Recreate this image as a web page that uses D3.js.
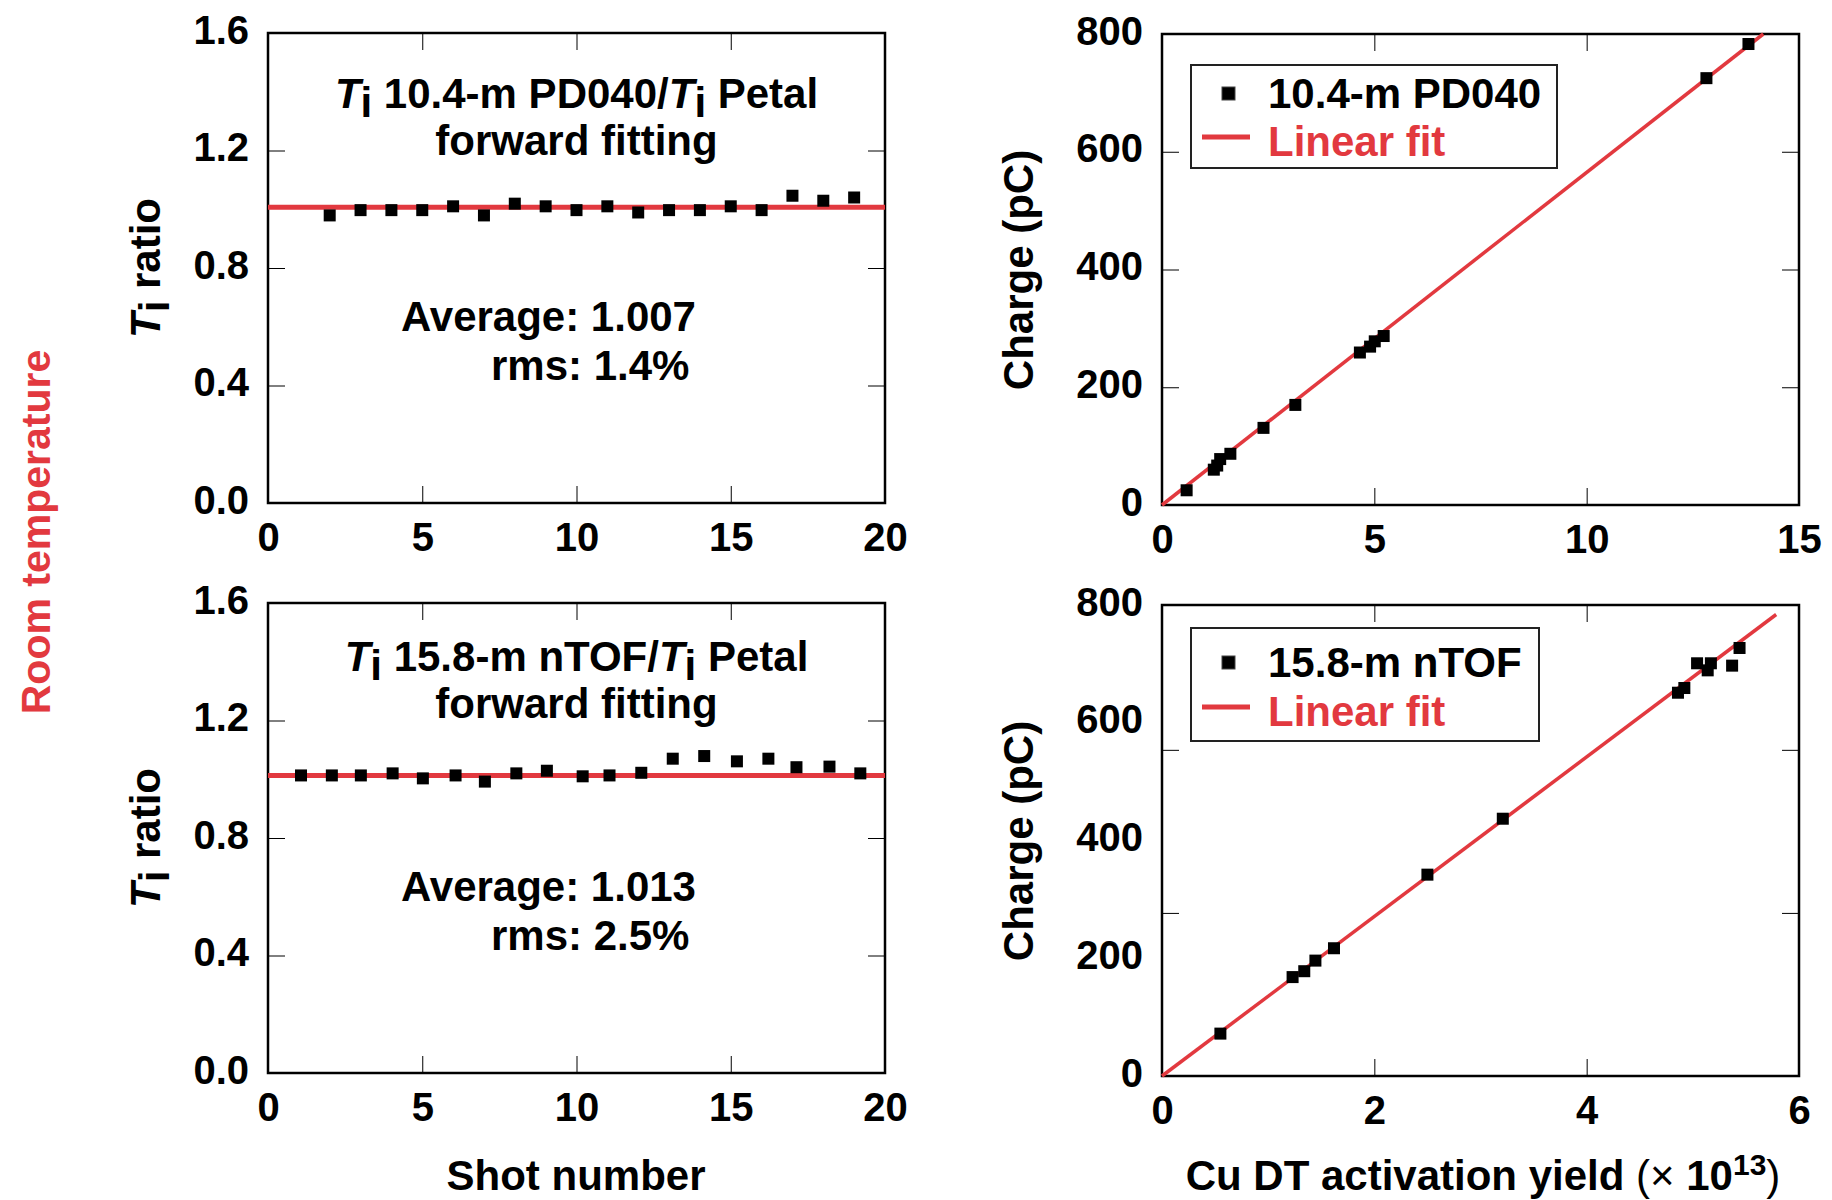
<!DOCTYPE html>
<html>
<head>
<meta charset="utf-8">
<script src="https://cdn.jsdelivr.net/npm/d3@7"></script>
<style>
  body { margin: 0; background: #fff; }
  text { font-family: "Liberation Sans", Arial, Helvetica, sans-serif; font-weight: bold; }
</style>
</head>
<body>
<div id="chart"></div>
<script>
// ---- data ----
const shotsPD = [2, 3, 4, 5, 6, 7, 8, 9, 10, 11, 12, 13, 14, 15, 16, 17, 18, 19];
const ratioPD = [0.979, 0.997, 0.997, 0.997, 1.010, 0.979, 1.019, 1.010, 0.997, 1.010, 0.989, 0.997, 0.997, 1.010, 0.997, 1.046, 1.029, 1.040];
const avgPD = 1.007;

const shotsNT = [1.07, 2.07, 3.01, 4.04, 5.02, 6.08, 7.03, 8.05, 9.04, 10.2, 11.07, 12.1, 13.12, 14.14, 15.2, 16.22, 17.13, 18.2, 19.2];
const ratioNT = [1.013, 1.013, 1.013, 1.020, 1.003, 1.013, 0.992, 1.020, 1.029, 1.010, 1.013, 1.022, 1.070, 1.079, 1.061, 1.070, 1.041, 1.043, 1.020];
const avgNT = 1.013;

const yieldPD = [0.58, 1.22, 1.30, 1.37, 1.61, 2.39, 3.14, 4.66, 4.90, 5.01, 5.22, 12.82, 13.81];
const chargePD = [25, 60, 67, 78, 87, 131, 170, 259, 269, 278, 287, 725, 783];
const slopePD = 56.5;

const yieldNT = [0.55, 1.23, 1.34, 1.445, 1.62, 2.50, 3.21, 4.86, 4.92, 5.04, 5.14, 5.17, 5.37, 5.44];
const chargeNT = [72, 168, 178, 196, 217, 342, 437, 651, 659, 701, 689, 701, 697, 727];
const slopeNT = 135.5;
const fitEndNT = 5.785;

const ratioTicks = [0, 0.4, 0.8, 1.2, 1.6];
const ratioMarks = [0.4, 0.8, 1.2];
const shotTicks = [0, 5, 10, 15, 20];
const shotMarks = [5, 10, 15];
const chargeTicks = [0, 200, 400, 600, 800];
const chargeMarksPD = [200, 400, 600];
const chargeMarksNT = [277, 554];
const yieldTicksPD = [0, 5, 10, 15];
const yieldMarksPD = [5, 10];
const yieldTicksNT = [0, 2, 4, 6];
const yieldMarksNT = [2, 4];

const red = "#e2393f";

const svg = d3.select("#chart")
  .append("svg")
  .attr("width", 1832)
  .attr("height", 1200);

function panel(o) {
  const w = o.x1 - o.x0, h = o.y1 - o.y0;
  const x = d3.scaleLinear().domain(o.xDomain).range([0, w]);
  const y = d3.scaleLinear().domain(o.yDomain).range([h, 0]);
  const g = svg.append("g").attr("transform", `translate(${o.x0},${o.y0})`);

  // tick marks, inward on all four sides
  const tk = 17;
  const mark = (axis, vals) => axis.tickValues(vals).tickSizeInner(-tk).tickSizeOuter(0).tickFormat("");
  g.append("g").attr("transform", `translate(0,${h})`).call(mark(d3.axisBottom(x), o.xMarks));
  g.append("g").call(mark(d3.axisTop(x), o.xMarks));
  g.append("g").call(mark(d3.axisLeft(y), o.yMarks));
  g.append("g").attr("transform", `translate(${w},0)`).call(mark(d3.axisRight(y), o.yMarks));

  // tick labels
  const xl = g.append("g").attr("transform", `translate(0,${h})`)
    .call(d3.axisBottom(x).tickValues(o.xTicks).tickSize(0).tickPadding(20).tickFormat(d3.format("d")));
  const yl = g.append("g")
    .call(d3.axisLeft(y).tickValues(o.yTicks).tickSize(0).tickPadding(19).tickFormat(o.yFormat));
  [xl, yl].forEach(a => {
    a.select(".domain").remove();
    a.selectAll("text").attr("font-size", 40).attr("font-family", null).attr("fill", "#000");
  });
  yl.selectAll("text").attr("dy", "0.25em");
  g.selectAll(".domain").remove();

  g.append("rect").attr("width", w).attr("height", h)
    .attr("fill", "none").attr("stroke", "#000").attr("stroke-width", 2.5);

  return { g, x, y, w, h };
}

function squares(p, xs, ys) {
  p.g.selectAll(null).data(xs).enter().append("rect")
    .attr("x", (d, i) => p.x(d) - 6)
    .attr("y", (d, i) => p.y(ys[i]) - 6)
    .attr("width", 12).attr("height", 12)
    .attr("fill", "#000");
}

function titleLine(p, yb, label) {
  const t = p.g.append("text").attr("x", p.w / 2).attr("y", yb)
    .attr("text-anchor", "middle").attr("font-size", 42);
  t.append("tspan").attr("font-style", "italic").text("T");
  t.append("tspan").attr("dy", 9).text("i");
  t.append("tspan").attr("dy", -9).text(" " + label + "/");
  t.append("tspan").attr("font-style", "italic").text("T");
  t.append("tspan").attr("dy", 9).text("i");
  t.append("tspan").attr("dy", -9).text(" Petal");
  p.g.append("text").attr("x", p.w / 2).attr("y", yb + 47)
    .attr("text-anchor", "middle").attr("font-size", 42).text("forward fitting");
}

function ratioPanel(y0, shots, ratios, avg, label, avgText, rmsText) {
  const p = panel({
    x0: 268, x1: 885, y0: y0, y1: y0 + 470,
    xDomain: [0, 20], yDomain: [0, 1.6],
    xTicks: shotTicks, xMarks: shotMarks,
    yTicks: ratioTicks, yMarks: ratioMarks, yFormat: d3.format(".1f")
  });
  p.g.append("line")
    .attr("x1", p.x(0)).attr("x2", p.x(20))
    .attr("y1", p.y(avg)).attr("y2", p.y(avg))
    .attr("stroke", red).attr("stroke-width", 5);
  squares(p, shots, ratios);
  titleLine(p, y0 === 33 ? 75 : 68, label);
  p.g.append("text").attr("x", 133).attr("y", 298).attr("font-size", 42).text(avgText);
  p.g.append("text").attr("x", 223).attr("y", 347).attr("font-size", 42).text(rmsText);

  const yt = svg.append("text")
    .attr("transform", `translate(160,${y0 + 235}) rotate(-90)`)
    .attr("text-anchor", "middle").attr("font-size", 42);
  yt.append("tspan").attr("font-style", "italic").text("T");
  yt.append("tspan").attr("dy", 9).text("i");
  yt.append("tspan").attr("dy", -9).text(" ratio");
  return p;
}

function chargePanel(y0, xDomain, xTicks, xMarks, yMarks, xs, ys, slope, fitEnd, legendLabel, lg) {
  const p = panel({
    x0: 1162, x1: 1799, y0: y0, y1: y0 + 471,
    xDomain: xDomain, yDomain: [0, 800],
    xTicks: xTicks, xMarks: xMarks,
    yTicks: chargeTicks, yMarks: yMarks, yFormat: d3.format("d")
  });
  p.g.append("line")
    .attr("x1", p.x(0)).attr("y1", p.y(0))
    .attr("x2", p.x(fitEnd)).attr("y2", p.y(slope * fitEnd))
    .attr("stroke", red).attr("stroke-width", 3.5);
  squares(p, xs, ys);

  // legend (r1, r2 = text baselines inside the box)
  const L = p.g.append("g").attr("transform", `translate(29,${lg.top})`);
  L.append("rect").attr("width", lg.w).attr("height", lg.h)
    .attr("fill", "#fff").attr("stroke", "#222").attr("stroke-width", 2);
  L.append("rect").attr("x", 31).attr("y", lg.r1 - 21).attr("width", 13).attr("height", 13)
    .attr("fill", "#000").attr("stroke", "#444").attr("stroke-width", 1);
  L.append("text").attr("x", 77).attr("y", lg.r1).attr("font-size", 42).text(legendLabel);
  L.append("line").attr("x1", 11).attr("x2", 59).attr("y1", lg.r2 - 19).attr("y2", lg.r2 - 19)
    .attr("stroke", red).attr("stroke-width", 5);
  L.append("text").attr("x", 77).attr("y", lg.r2).attr("font-size", 42).attr("fill", red).text("Linear fit");

  svg.append("text")
    .attr("transform", `translate(1033,${y0 + 236}) rotate(-90)`)
    .attr("text-anchor", "middle").attr("font-size", 42).text("Charge (pC)");
  return p;
}

ratioPanel(33, shotsPD, ratioPD, avgPD, "10.4-m PD040", "Average: 1.007", "rms: 1.4%");
ratioPanel(603, shotsNT, ratioNT, avgNT, "15.8-m nTOF", "Average: 1.013", "rms: 2.5%");

chargePanel(34, [0, 15], yieldTicksPD, yieldMarksPD, chargeMarksPD, yieldPD, chargePD,
  slopePD, 800 / slopePD, "10.4-m PD040", { top: 31, w: 366, h: 103, r1: 43, r2: 91 });
chargePanel(605, [0, 6], yieldTicksNT, yieldMarksNT, chargeMarksNT, yieldNT, chargeNT,
  slopeNT, fitEndNT, "15.8-m nTOF", { top: 23, w: 348, h: 113, r1: 49, r2: 98 });

// bottom titles
svg.append("text").attr("x", 576).attr("y", 1190).attr("text-anchor", "middle")
  .attr("font-size", 42).text("Shot number");

const xt = svg.append("text").attr("x", 1483).attr("y", 1190).attr("text-anchor", "middle")
  .attr("font-size", 42);
xt.append("tspan").text("Cu DT activation yield ");
xt.append("tspan").attr("font-weight", "normal").text("(× ");
xt.append("tspan").text("10");
xt.append("tspan").attr("font-size", 30).attr("dy", -15).text("13");
xt.append("tspan").attr("font-weight", "normal").attr("dy", 15).text(")");

svg.append("text")
  .attr("transform", "translate(50,532) rotate(-90)")
  .attr("text-anchor", "middle").attr("font-size", 41).attr("fill", red)
  .text("Room temperature");
</script>
</body>
</html>
